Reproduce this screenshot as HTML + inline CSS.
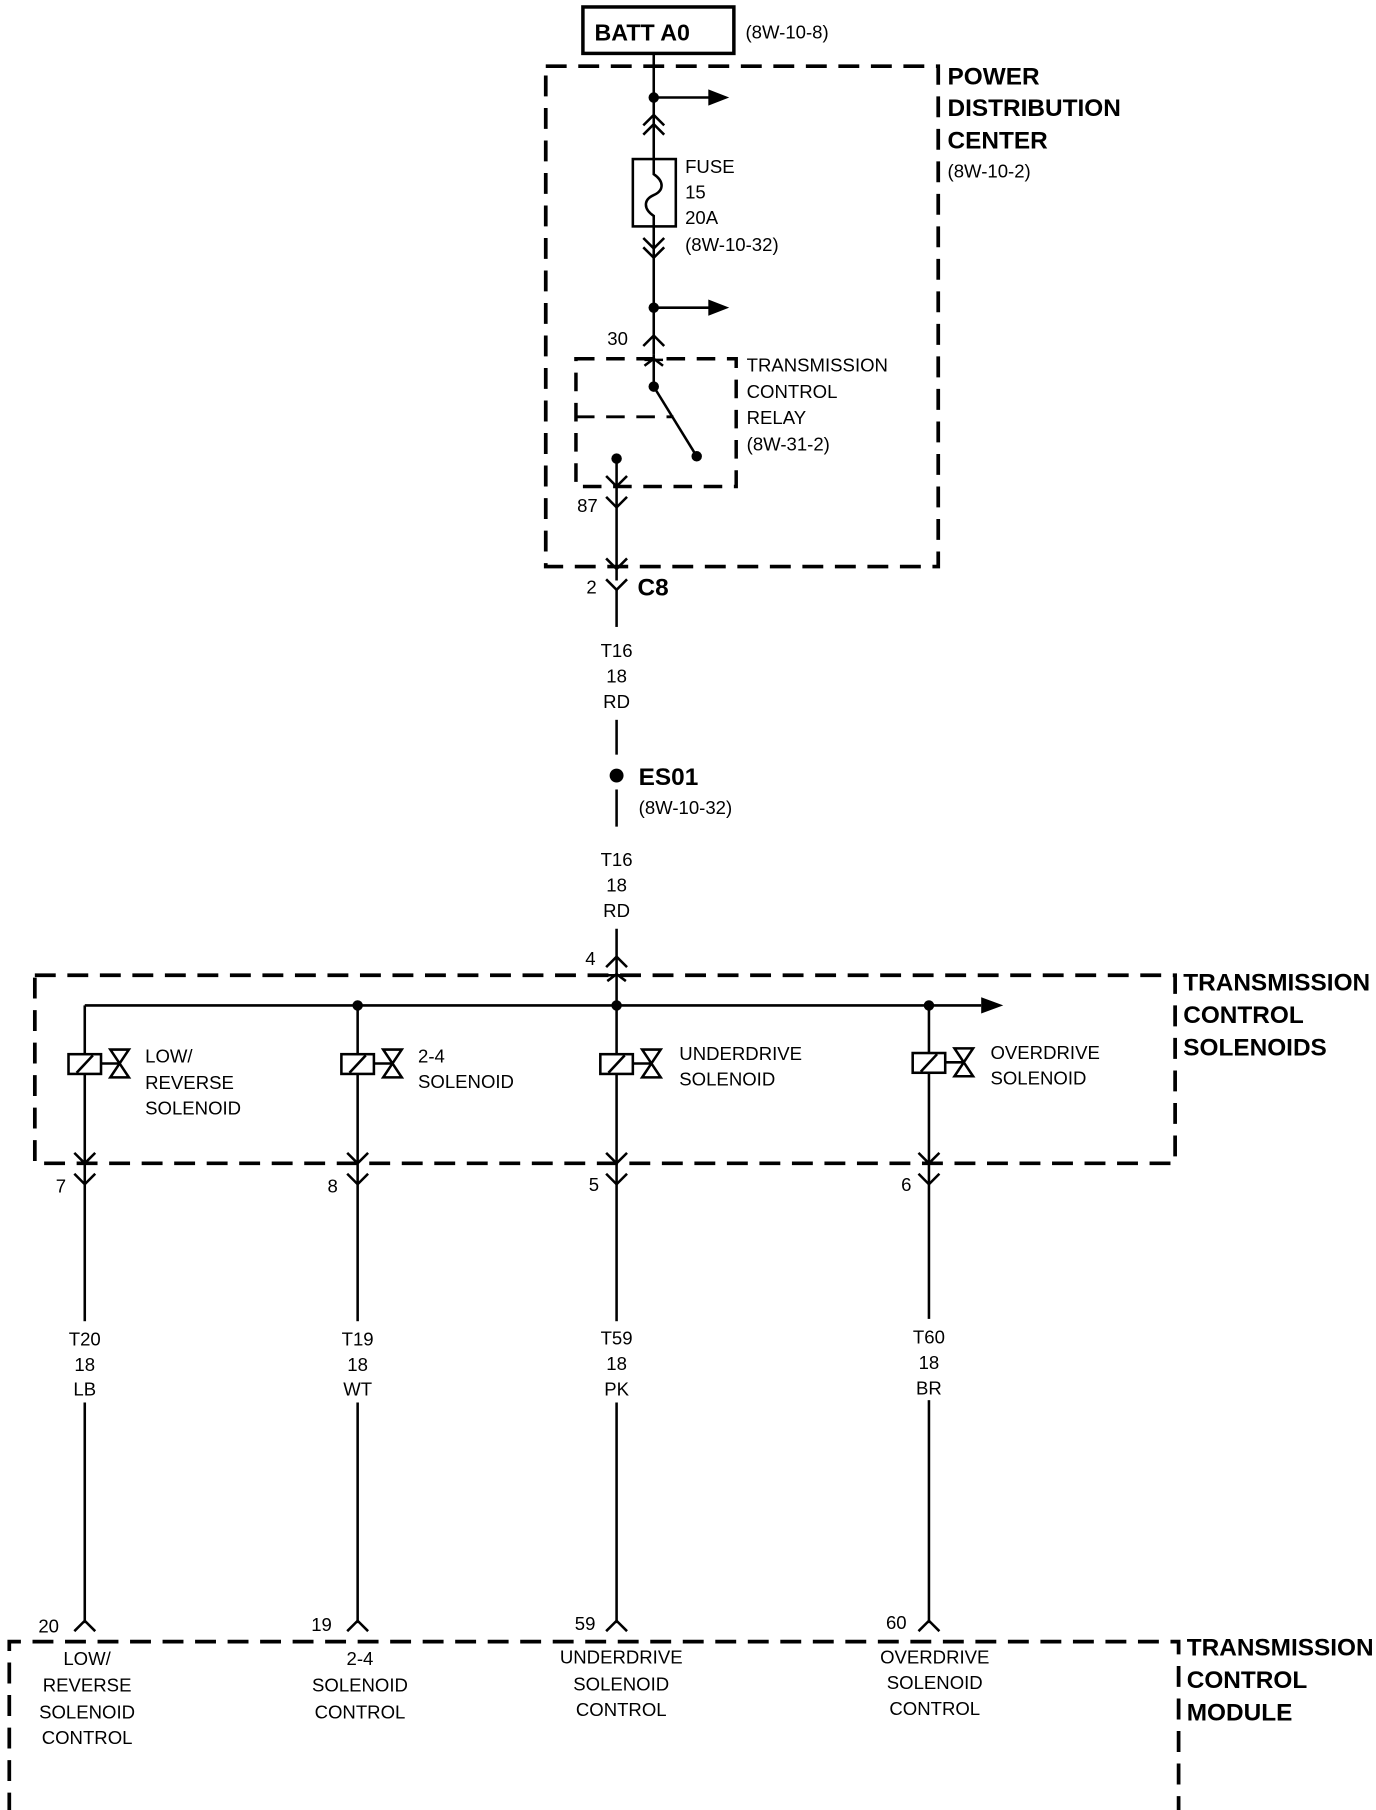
<!DOCTYPE html>
<html><head><meta charset="utf-8"><style>
html,body{margin:0;padding:0;background:#fff;}
svg{display:block;}
text{font-family:"Liberation Sans",sans-serif;fill:#000;}
.n{font-size:16px;}
.b{font-size:21px;font-weight:bold;}
</style></head><body>
<svg width="1376" height="1810" viewBox="0 0 1185 1559" preserveAspectRatio="none" xmlns="http://www.w3.org/2000/svg">
<g fill="none" stroke="#000" stroke-width="2.2">
<!-- BATT -->
<rect x="502" y="6" width="130" height="40" stroke-width="3"/>
<!-- PDC dashed -->
<rect x="470" y="57" width="338" height="431" stroke-width="3.2" stroke-dasharray="18 10"/>
<!-- main wire top -->
<line x1="563" y1="46" x2="563" y2="137"/>
<line x1="563" y1="84" x2="612" y2="84"/>
<path d="M554 108 L563 99 L572 108 M554 116 L563 107 L572 116"/>
<rect x="545" y="137" width="37" height="58"/>
<path d="M563 137 L563 150 C572 156 572 164 563 168 C554 172 554 180 563 186 L563 195"/>
<line x1="563" y1="195" x2="563" y2="305"/>
<path d="M554 205 L563 214 L572 205 M554 213 L563 222 L572 213"/>
<line x1="563" y1="265" x2="612" y2="265"/>
<path d="M554 298 L563 289 L572 298"/>
<!-- relay box -->
<rect x="496" y="309" width="138" height="110" stroke-width="3" stroke-dasharray="16 10"/>
<line x1="563" y1="305" x2="563" y2="333"/>
<path d="M555 315 L563 309 L571 315 M555 310 L571 310"/>
<line x1="563" y1="333" x2="600" y2="393"/>
<line x1="496" y1="359" x2="580" y2="359" stroke-width="2.5" stroke-dasharray="16 10"/>
<line x1="531" y1="395" x2="531" y2="500"/>
<path d="M522 410 L531 419 L540 410"/>
<path d="M522 428 L531 437 L540 428"/>
<path d="M522 481 L531 490 L540 481"/>
<path d="M522 499 L531 508 L540 499"/>
<line x1="531" y1="508" x2="531" y2="540"/>
<line x1="531" y1="620" x2="531" y2="650"/>
<line x1="531" y1="680" x2="531" y2="712"/>
<line x1="531" y1="800" x2="531" y2="866"/>
<path d="M522 833 L531 824 L540 833"/>
<path d="M523 845 L531 839 L539 845 M523 840 L539 840"/>
<!-- TCS dashed -->
<rect x="30" y="840" width="982" height="162" stroke-width="3.2" stroke-dasharray="18 10"/>
<line x1="73" y1="866" x2="845" y2="866"/>
<!-- columns -->
<g id="c">
</g>
<!-- TCM dashed -->
<path d="M8 1590 L8 1414 L1015 1414 L1015 1590" stroke-width="3.2" stroke-dasharray="18 10"/>
</g>
<g fill="#000">
<circle cx="563" cy="84" r="4.5"/><circle cx="563" cy="265" r="4.5"/>
<circle cx="563" cy="333" r="4.5"/><circle cx="600" cy="393" r="4.5"/>
<circle cx="531" cy="395" r="4.5"/><circle cx="531" cy="668" r="6"/>
<circle cx="308" cy="866" r="4.5"/><circle cx="531" cy="866" r="4.5"/><circle cx="800" cy="866" r="4.5"/>
<polygon points="610,77 628,84 610,91"/><polygon points="610,258 628,265 610,272"/>
<polygon points="845,859 864,866 845,873"/>
</g>
<!-- solenoid columns -->
<g fill="none" stroke="#000" stroke-width="2.2">
<g transform="translate(73,0)">
<line x1="0" y1="866" x2="0" y2="1398"/><rect x="-14" y="908" width="28" height="17" fill="#fff"/><line x1="-7" y1="924" x2="7" y2="909"/>
<line x1="14" y1="916" x2="30" y2="916"/><path d="M22 904 L38 904 L30 916 L22 928 L38 928 L30 916 Z"/>
<path d="M-9 993 L0 1002 L9 993 M-9 1011 L0 1020 L9 1011 M-9 1405 L0 1396 L9 1405"/></g>
<g transform="translate(308,0)">
<line x1="0" y1="866" x2="0" y2="1398"/><rect x="-14" y="908" width="28" height="17" fill="#fff"/><line x1="-7" y1="924" x2="7" y2="909"/>
<line x1="14" y1="916" x2="30" y2="916"/><path d="M22 904 L38 904 L30 916 L22 928 L38 928 L30 916 Z"/>
<path d="M-9 993 L0 1002 L9 993 M-9 1011 L0 1020 L9 1011 M-9 1405 L0 1396 L9 1405"/></g>
<g transform="translate(531,0)">
<line x1="0" y1="866" x2="0" y2="1398"/><rect x="-14" y="908" width="28" height="17" fill="#fff"/><line x1="-7" y1="924" x2="7" y2="909"/>
<line x1="14" y1="916" x2="30" y2="916"/><path d="M22 904 L38 904 L30 916 L22 928 L38 928 L30 916 Z"/>
<path d="M-9 993 L0 1002 L9 993 M-9 1011 L0 1020 L9 1011 M-9 1405 L0 1396 L9 1405"/></g>
<g transform="translate(800,0)">
<line x1="0" y1="866" x2="0" y2="1398"/><rect x="-14" y="907" width="28" height="17" fill="#fff"/><line x1="-7" y1="923" x2="7" y2="908"/>
<line x1="14" y1="915" x2="30" y2="915"/><path d="M22 903 L38 903 L30 915 L22 927 L38 927 L30 915 Z"/>
<path d="M-9 993 L0 1002 L9 993 M-9 1011 L0 1020 L9 1011 M-9 1405 L0 1396 L9 1405"/></g>
</g>
<!-- wire label masks -->
<g fill="#fff"><rect x="60" y="1138" width="28" height="70"/><rect x="295" y="1138" width="28" height="70"/><rect x="518" y="1138" width="28" height="70"/><rect x="787" y="1136" width="28" height="70"/></g>
<!-- text -->
<text x="512" y="35" style="font-size:20px;font-weight:bold">BATT A0</text>
<text class="n" x="642" y="33">(8W-10-8)</text>
<text class="b" x="816" y="73">POWER</text><text class="b" x="816" y="100">DISTRIBUTION</text><text class="b" x="816" y="128">CENTER</text>
<text class="n" x="816" y="153">(8W-10-2)</text>
<text class="n" x="590" y="149">FUSE</text><text class="n" x="590" y="171">15</text><text class="n" x="590" y="193">20A</text><text class="n" x="590" y="216">(8W-10-32)</text>
<text class="n" x="523" y="297">30</text>
<text class="n" x="643" y="320">TRANSMISSION</text><text class="n" x="643" y="343">CONTROL</text><text class="n" x="643" y="365">RELAY</text><text class="n" x="643" y="388">(8W-31-2)</text>
<text class="n" x="497" y="441">87</text>
<text class="n" x="505" y="511">2</text>
<text class="b" x="549" y="513">C8</text>
<g class="n" text-anchor="middle"><text x="531" y="566">T16</text><text x="531" y="588">18</text><text x="531" y="610">RD</text>
<text x="531" y="746">T16</text><text x="531" y="768">18</text><text x="531" y="790">RD</text></g>
<text class="b" x="550" y="676">ES01</text><text class="n" x="550" y="701">(8W-10-32)</text>
<text class="n" x="504" y="831">4</text>
<text class="b" x="1019" y="853">TRANSMISSION</text><text class="b" x="1019" y="881">CONTROL</text><text class="b" x="1019" y="909">SOLENOIDS</text>
<text class="n" x="125" y="915">LOW/</text><text class="n" x="125" y="938">REVERSE</text><text class="n" x="125" y="960">SOLENOID</text>
<text class="n" x="360" y="915">2-4</text><text class="n" x="360" y="937">SOLENOID</text>
<text class="n" x="585" y="913">UNDERDRIVE</text><text class="n" x="585" y="935">SOLENOID</text>
<text class="n" x="853" y="912">OVERDRIVE</text><text class="n" x="853" y="934">SOLENOID</text>
<text class="n" x="48" y="1027">7</text><text class="n" x="282" y="1027">8</text><text class="n" x="507" y="1026">5</text><text class="n" x="776" y="1026">6</text>
<g class="n" text-anchor="middle">
<text x="73" y="1159">T20</text><text x="73" y="1181">18</text><text x="73" y="1202">LB</text>
<text x="308" y="1159">T19</text><text x="308" y="1181">18</text><text x="308" y="1202">WT</text>
<text x="531" y="1158">T59</text><text x="531" y="1180">18</text><text x="531" y="1202">PK</text>
<text x="800" y="1157">T60</text><text x="800" y="1179">18</text><text x="800" y="1201">BR</text>
<text x="75" y="1434">LOW/</text><text x="75" y="1457">REVERSE</text><text x="75" y="1480">SOLENOID</text><text x="75" y="1502">CONTROL</text>
<text x="310" y="1434">2-4</text><text x="310" y="1457">SOLENOID</text><text x="310" y="1480">CONTROL</text>
<text x="535" y="1433">UNDERDRIVE</text><text x="535" y="1456">SOLENOID</text><text x="535" y="1478">CONTROL</text>
<text x="805" y="1433">OVERDRIVE</text><text x="805" y="1455">SOLENOID</text><text x="805" y="1477">CONTROL</text>
</g>
<text class="n" x="33" y="1406">20</text><text class="n" x="268" y="1405">19</text><text class="n" x="495" y="1404">59</text><text class="n" x="763" y="1403">60</text>
<text class="b" x="1022" y="1426">TRANSMISSION</text><text class="b" x="1022" y="1454">CONTROL</text><text class="b" x="1022" y="1482">MODULE</text>
</svg>
</body></html>
